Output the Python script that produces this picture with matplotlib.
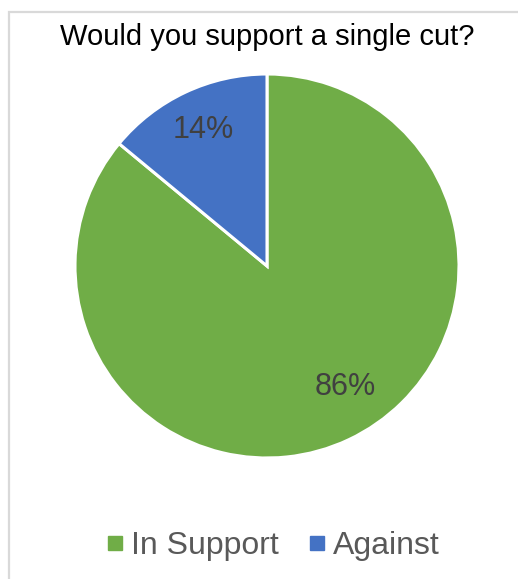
import matplotlib
matplotlib.use("Agg")
import numpy as np
import matplotlib.pyplot as plt
from matplotlib.lines import Line2D
from matplotlib.patches import Rectangle

# データ
labels = ["In Support", "Against"]
values = [86, 14]
colors = ["#70AD47", "#4472C4"]
title = "Would you support a single cut?"

plt.rcParams['font.family'] = ['Liberation Sans', 'DejaVu Sans']

W, H = 518, 579
fig = plt.figure(figsize=(W / 100, H / 100), dpi=100)

# 枠線 (左と上のみ見える)
fig.patches.append(Rectangle((8.5 / W, -0.1), 1.2, 1 - 12.5 / H + 0.1,
                             transform=fig.transFigure, fill=False,
                             edgecolor="#D9D9D9", linewidth=1.6))

# 円グラフ
cx, cy, r = 267, 579 - 266, 192
ax = fig.add_axes([(cx - r) / W, (cy - r) / H, 2 * r / W, 2 * r / H])
wedges, texts, autotexts = ax.pie(
    values, colors=colors, startangle=90, counterclock=False,
    autopct="%1.0f%%", pctdistance=0.78,
    wedgeprops=dict(edgecolor="white", linewidth=2.2),
    textprops=dict(fontsize=22, color="#404040"))
# 大きい方のラベルは Excel の best fit 風に少し右寄せ
ang = np.deg2rad(-57)
autotexts[0].set_position((0.75 * np.cos(ang), 0.75 * np.sin(ang)))
ax.set_xlim(-1, 1)
ax.set_ylim(-1, 1)
ax.set_aspect("equal")
ax.axis("off")

fig.text(267 / W, 1 - 37 / H, title, ha="center", va="center",
         fontsize=21, color="black")

# 凡例
handles = [Line2D([], [], marker="s", linestyle="none", markersize=9.5,
                  markerfacecolor=c, markeredgecolor=c) for c in colors]
leg = fig.legend(handles, labels, loc="center", bbox_to_anchor=(273 / W, 1 - 546 / H),
                 ncol=2, frameon=False, fontsize=23, handlelength=0.5,
                 handletextpad=0.25, columnspacing=0.95, labelcolor="#595959")

fig.savefig("out.png", dpi=100)
